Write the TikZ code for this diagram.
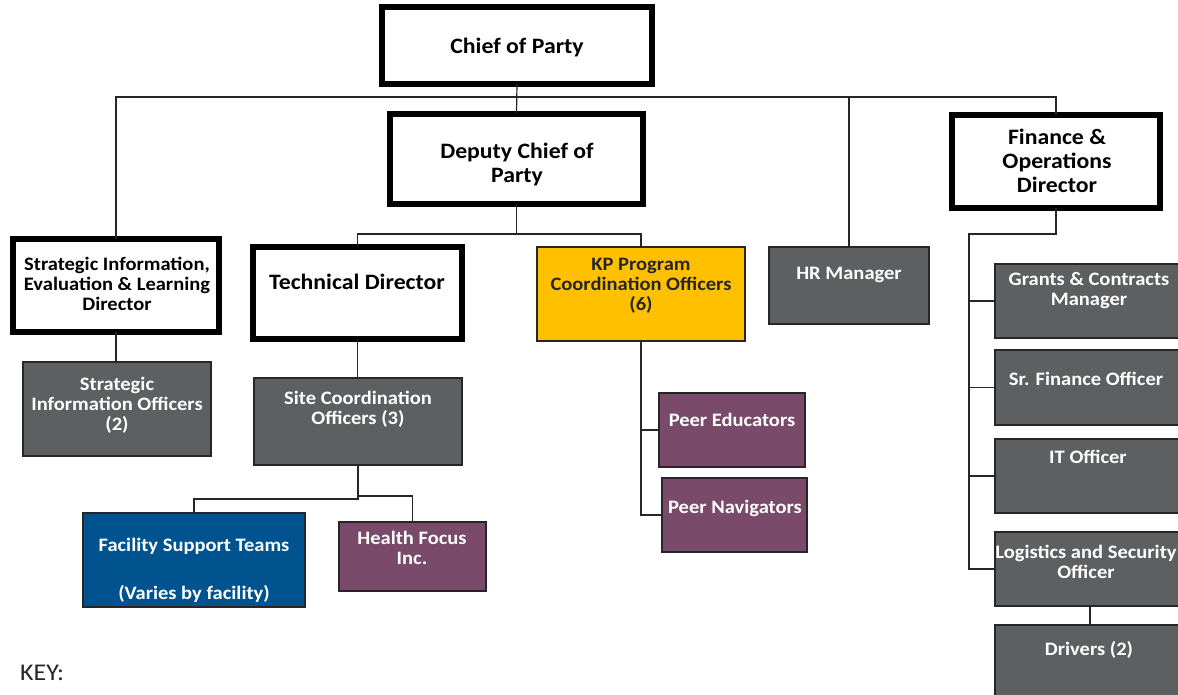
\documentclass[tikz,border=0pt]{standalone}
\usepackage{fontspec}
\setmainfont{Carlito}[FakeStretch=1.08]
\definecolor{boxgray}{HTML}{5E5F61}
\definecolor{kpgold}{HTML}{FFC000}
\definecolor{plum}{HTML}{794A6A}
\definecolor{fstblue}{HTML}{00538F}
\definecolor{edge}{HTML}{262626}
\tikzset{
  lead/.style={draw=black, line width=6pt, fill=white, inner sep=0pt, outer sep=0pt},
  unit/.style={draw=edge, line width=1.3pt, inner sep=0pt, outer sep=0pt},
  grayunit/.style={unit, fill=boxgray},
  goldunit/.style={unit, fill=kpgold},
  plumunit/.style={unit, fill=plum},
  blueunit/.style={unit, fill=fstblue},
  titletxt/.style={align=center, font=\fontsize{22}{24}\selectfont\bfseries, text=black, inner sep=0pt},
  whitetxt/.style={align=center, font=\fontsize{19}{20}\selectfont\bfseries, text=white, inner sep=0pt},
  darktxt/.style={align=center, font=\fontsize{19}{20}\selectfont\bfseries, text=black!85, inner sep=0pt},
  wire/.style={draw=edge, line width=1.2pt}
}
\begin{document}
\begin{tikzpicture}[x=1pt,y=-1pt]
\useasboundingbox[fill=white] (0,0) rectangle (1178,694);
% boxes
\node[lead, minimum width=270pt, minimum height=77pt] (cop) at (517,45.5) {};
\node[lead, minimum width=253pt, minimum height=90pt] (dcp) at (516.5,158.5) {};
\node[lead, minimum width=208pt, minimum height=93pt] (fod) at (1056,161) {};
\node[lead, minimum width=206pt, minimum height=93pt] (sid) at (116,285) {};
\node[lead, minimum width=209pt, minimum height=92pt] (td) at (357.5,293) {};
\node[goldunit, minimum width=208pt, minimum height=94pt] (kp) at (641,294) {};
\node[grayunit, minimum width=160pt, minimum height=77pt] (hr) at (849,285.5) {};
\node[grayunit, minimum width=188pt, minimum height=94pt] (sio) at (117,409) {};
\node[grayunit, minimum width=208pt, minimum height=87pt] (sco) at (358,421.5) {};
\node[blueunit, minimum width=222pt, minimum height=94pt] (fst) at (194,560) {};
\node[plumunit, minimum width=147pt, minimum height=69pt] (hfi) at (412.5,556.5) {};
\node[plumunit, minimum width=146pt, minimum height=74pt] (pe) at (732,430) {};
\node[plumunit, minimum width=145pt, minimum height=74pt] (pn) at (734.5,515) {};
\node[grayunit, minimum width=190pt, minimum height=74pt] (gc) at (1090,301) {};
\node[grayunit, minimum width=190pt, minimum height=75pt] (sfo) at (1090,387.5) {};
\node[grayunit, minimum width=190pt, minimum height=74pt] (ito) at (1090,476) {};
\node[grayunit, minimum width=190pt, minimum height=74pt] (lso) at (1090,569) {};
\node[grayunit, minimum width=190pt, minimum height=74pt] (drv) at (1090,662) {};
% texts
\node[titletxt] (copt) at (517,48) {Chief of Party};
\node[titletxt] (dcpt) at (517,165) {Deputy Chief of\\Party};
\node[titletxt] (fodt) at (1057,161) {Finance \&\\Operations\\Director};
\node[titletxt, font=\fontsize{19}{20}\selectfont\bfseries] (sidt) at (117,284) {Strategic Information,\\Evaluation \& Learning\\Director};
\node[titletxt] (tdt) at (357,282) {Technical Director};
\node[darktxt] (kpt) at (641,286) {KP Program\\Coordination Officers\\(6)};
\node[whitetxt] (hrt) at (849,275) {HR Manager};
\node[whitetxt] (siot) at (117,405) {Strategic\\Information Officers\\(2)};
\node[whitetxt] (scot) at (358,409) {Site Coordination\\Officers (3)};
\node[whitetxt] (fstt) at (194,546) {Facility Support Teams};
\node[whitetxt] (fstt2) at (194,594) {(Varies by facility)};
\node[whitetxt] (hfit) at (412,548) {Health Focus\\Inc.};
\node[whitetxt] (pet) at (732,420) {Peer Educators};
\node[whitetxt] (pnt) at (735,508) {Peer Navigators};
\node[whitetxt] (gct) at (1089,291) {Grants \& Contracts\\Manager};
\node[whitetxt] (sfot) at (1086,379) {Sr. Finance Officer};
\node[whitetxt] (itot) at (1088,457) {IT Officer};
\node[whitetxt] (lsot) at (1086,562) {Logistics and Security\\Officer};
\node[whitetxt] (drvt) at (1089,650) {Drivers (2)};
\node[font=\fontsize{24}{26}\selectfont, text=black!85, inner sep=0pt, anchor=west] (key) at (20,673) {KEY:};
% buses
\coordinate (bus1) at (517,97);
\coordinate (bus2) at (517,234);
\coordinate (ftrunk) at (969,234);
\coordinate (sbusl) at (358,499);
\coordinate (sbusr) at (358,496);
% connectors
\draw[wire] (cop.south) -- (dcp.north);
\draw[wire] (sid.north) -- (sid.north |- bus1) -- (fod.north |- bus1) -- (fod.north);
\draw[wire] (hr.north) -- (hr.north |- bus1);
\draw[wire] (dcp.south) -- (dcp.south |- bus2);
\draw[wire] (td.north) -- (td.north |- bus2) -- (kp.north |- bus2) -- (kp.north);
\draw[wire] (sid.south) -- (sid.south |- sio.north);
\draw[wire] (td.south) -- (td.south |- sco.north);
\draw[wire] (sco.south) -- (sbusl) -- (fst.north |- sbusl) -- (fst.north);
\draw[wire] (sbusr) -- (hfi.north |- sbusr) -- (hfi.north);
\draw[wire] (kp.south) |- (pe.west);
\draw[wire] (kp.south) |- (pn.west);
\draw[wire] (fod.south) -- (fod.south |- ftrunk) -- (ftrunk) |- (gc.west);
\draw[wire] (ftrunk) |- (sfo.west);
\draw[wire] (ftrunk) |- (ito.west);
\draw[wire] (ftrunk) |- (lso.west);
\draw[wire] (lso.south) -- (drv.north);
\end{tikzpicture}
\end{document}
